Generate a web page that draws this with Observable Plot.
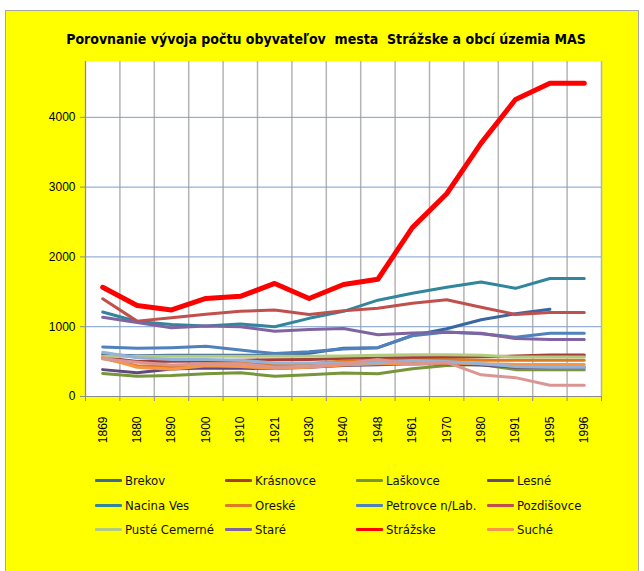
<!DOCTYPE html>
<html>
<head>
<meta charset="utf-8">
<script src="https://cdn.jsdelivr.net/npm/d3@7"></script>
<script src="https://cdn.jsdelivr.net/npm/@observablehq/plot@0.6"></script>
<style>
  html, body { margin: 0; padding: 0; background: #ffffff; }
  #wrap { position: relative; width: 644px; height: 571px; overflow: hidden; }
  #panel { position: absolute; left: 5px; top: 10px; width: 634px; height: 570px; background: #ffff00; border: 1px solid #a6a6a6; box-sizing: border-box; }
  #title { position: absolute; left: 0; top: 31px; width: 652px; text-align: center; white-space: pre;
           font-family: "DejaVu Sans Condensed", "Liberation Sans Narrow", sans-serif; font-weight: bold; font-size: 14px; color: #000; }
  #chart { position: absolute; left: 0; top: 0; }
  .leg { position: absolute; height: 20px; display: flex; align-items: center; white-space: nowrap;
         font-family: "DejaVu Sans Condensed", "Liberation Sans Narrow", sans-serif; font-size: 13px; color: #111; }
  .leg .sw { width: 27px; height: 3px; margin-right: 3px; border-radius: 1px; }
</style>
</head>
<body>
<div id="wrap">
  <div id="panel"></div>
  <div id="chart"></div>
  <div id="title"></div>
  <div id="legend"></div>
</div>
<script>
// ---- data ----
const titleText = "Porovnanie vývoja počtu obyvateľov  mesta  Strážske a obcí územia MAS";
const years = ["1869","1880","1890","1900","1910","1921","1930","1940","1948","1961","1970","1980","1991","1995","1996"];
const yTicks = [0, 1000, 2000, 3000, 4000];

const brekov      = [600, 585, 590, 590, 590, 595, 620, 690, 700, 875, 970, 1100, 1185, 1250, null];
const krasnovce   = [560, 500, 505, 510, 520, 525, 530, 545, 550, 555, 560, 570, 580, 595, 595];
const laskovce    = [330, 290, 300, 325, 340, 290, 310, 335, 325, 397, 445, 460, 385, 385, 385];
const lesne       = [385, 340, 395, 410, 405, 400, 420, 445, 455, 470, 470, 450, 420, 420, 420];
const nacinaVes   = [1210, 1075, 1030, 1010, 1040, 1000, 1120, 1220, 1380, 1480, 1565, 1640, 1550, 1690, 1690];
const oreske      = [545, 440, 430, 470, 480, 450, 470, 510, 520, 520, 525, 520, 520, 520, 520];
const petrovce    = [710, 690, 700, 720, 665, 615, 640, 680, 700, 870, 925, 900, 850, 905, 905];
const pozdisovce  = [1400, 1080, 1130, 1180, 1220, 1240, 1175, 1230, 1265, 1335, 1385, 1280, 1175, 1205, 1205];
const pusteCem    = [575, 575, 575, 575, 575, 575, 575, 580, 590, 600, 600, 590, 565, 565, 565];
const stare       = [1135, 1060, 985, 1010, 1000, 935, 960, 975, 885, 910, 920, 905, 830, 815, 815];
const strazske    = [1565, 1305, 1240, 1405, 1435, 1620, 1405, 1605, 1680, 2420, 2905, 3630, 4255, 4490, 4490];
const suche       = [560, 420, 390, 440, 430, 400, 420, 450, 470, 470, 480, 470, 460, 460, 460];
const series13    = [635, 555, 530, 530, 520, 480, 480, 480, 480, 515, 500, 470, 430, 420, 420];
const series14    = [540, 490, 450, 465, 470, 420, 430, 470, 530, 460, 490, 310, 270, 160, 160];

const seriesNames  = ["Brekov","Krásnovce","Laškovce","Lesné","Nacina Ves","Oreské","Petrovce n/Lab.","Pozdišovce","Pusté Cemerné","Staré","Strážske","Suché","s13","s14"];
const seriesValues = [brekov, krasnovce, laskovce, lesne, nacinaVes, oreske, petrovce, pozdisovce, pusteCem, stare, strazske, suche, series13, series14];
const seriesColors = ["#3a67a0","#a33e3a","#77953c","#604a7b","#31859c","#de7a22","#4f81bd","#c0504d","#b3cb7f","#8064a2","#ff0000","#f79646","#95b3d7","#d99694"];
const legendCount = 12;

// ---- chart ----
const idx = years.map((_, i) => i);
const edges = d3.range(years.length + 1).map(i => i - 0.5);

const lineMarks = seriesValues.map((vals, k) =>
  Plot.line(vals.map((v, i) => ({i, v, s: seriesNames[k]})).filter(d => d.v != null), {
    x: "i", y: "v",
    stroke: seriesColors[k],
    strokeWidth: seriesNames[k] === "Strážske" ? 5 : 3,
    strokeLinejoin: "round", strokeLinecap: "round"
  })
);

const chart = Plot.plot({
  width: 644,
  height: 460,
  marginLeft: 85,
  marginRight: 43,
  marginTop: 61,
  marginBottom: 64,
  style: {background: "transparent", fontFamily: "Liberation Sans, Arial, sans-serif", fontSize: "12px", color: "#000", overflow: "visible"},
  x: {domain: [-0.5, years.length - 0.5], label: null},
  y: {domain: [0, 4800], label: null},
  marks: [
    Plot.frame({fill: "white", stroke: "none"}),
    Plot.ruleX(edges, {stroke: "#b4b4b4", strokeWidth: 1.5}),
    Plot.ruleY(yTicks.slice(1), {stroke: "#7d9dd0", strokeWidth: 1}),
    Plot.ruleX([edges[0]], {stroke: "#8c8c8c", strokeWidth: 1}),
    Plot.ruleY([0], {stroke: "#8c8c8c", strokeWidth: 1}),
    Plot.axisY(yTicks, {tickSize: 5, tickPadding: 5, stroke: "#8c8c8c", tickFormat: d => String(d), fontSize: 12, label: null}),
    Plot.axisX(edges, {tickSize: 5, tickFormat: () => "", stroke: "#8c8c8c", label: null}),
    Plot.axisX(idx, {tickSize: 0, tickPadding: 20, tickRotate: -90, tickFormat: i => years[i], fontSize: 12, label: null}),
    ...lineMarks
  ]
});
document.getElementById("chart").appendChild(chart);

// ---- title ----
document.getElementById("title").textContent = titleText;

// ---- legend ----
const legend = document.getElementById("legend");
const colX = [95, 225, 356, 487];
const rowY = [470, 495, 519];
for (let k = 0; k < legendCount; k++) {
  const el = document.createElement("div");
  el.className = "leg";
  el.style.left = colX[k % 4] + "px";
  el.style.top = rowY[Math.floor(k / 4)] + "px";
  const sw = document.createElement("div");
  sw.className = "sw";
  sw.style.background = seriesColors[k];
  const tx = document.createElement("span");
  tx.textContent = seriesNames[k];
  el.appendChild(sw);
  el.appendChild(tx);
  legend.appendChild(el);
}
</script>
</body>
</html>
